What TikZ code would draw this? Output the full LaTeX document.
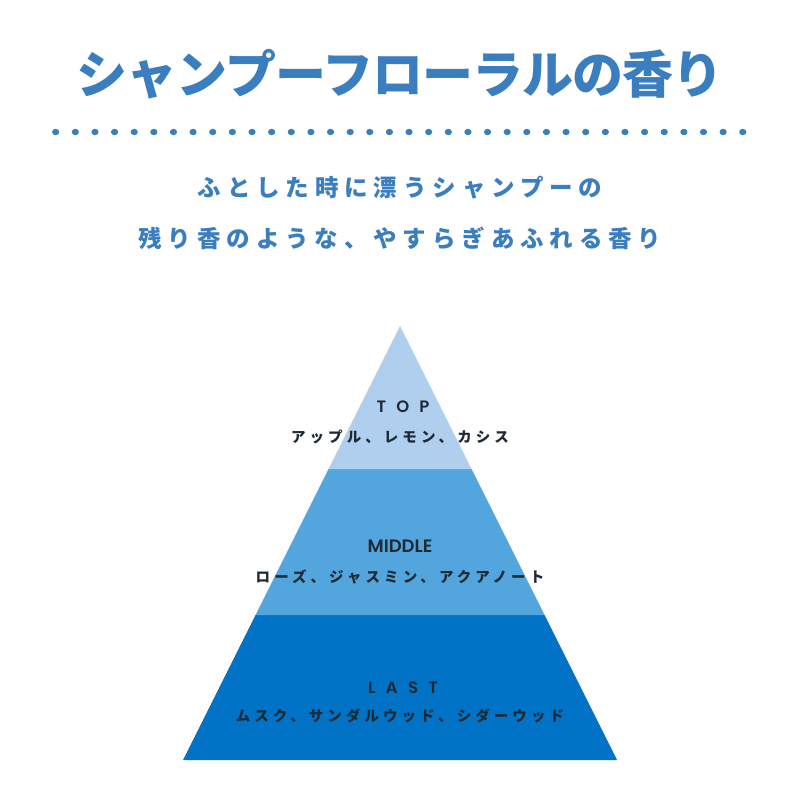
\documentclass[tikz,border=0pt]{standalone}
\usepackage{fontspec}
\setmainfont{Poppins}
\newfontfamily\titlefont{Noto Sans CJK JP}[LetterSpace=-2]
\newfontfamily\leadfont{Noto Sans CJK JP}[LetterSpace=25]
\newfontfamily\notefont{Noto Sans CJK JP}[LetterSpace=28]
\newfontfamily\tierfont{Poppins}[UprightFont={* SemiBold}, LetterSpace=62]
\newfontfamily\midfont{Poppins}[UprightFont={* SemiBold}]

\definecolor{titleblue}{HTML}{3B7EBF}
\definecolor{topblue}{HTML}{B0CFEE}
\definecolor{midblue}{HTML}{52A6DD}
\definecolor{lastblue}{HTML}{0073C7}
\definecolor{notetext}{HTML}{1E2A36}

\tikzset{
  lead/.style={text=titleblue, font=\leadfont\bfseries\fontsize{23.5}{23.5}\selectfont},
  tier/.style={text=notetext, font=\tierfont\fontsize{16.5}{16.5}\selectfont},
  note/.style={text=notetext, font=\notefont\bfseries\fontsize{14.5}{14.5}\selectfont},
}

\begin{document}
\begin{tikzpicture}[x=1pt,y=-1pt]
  \useasboundingbox[fill=white] (0,0) rectangle (800,800);

  % heading
  \node[text=titleblue, font=\titlefont\bfseries\fontsize{51}{51}\selectfont]
    (title) at (400,74) {シャンプーフローラルの香り};
  % dotted rule
  \foreach \i in {0,...,35}
    \fill[titleblue] (55.7+\i*19.63,132) ellipse (3.6 and 3.2);

  % lead text
  \node[lead] (lead1) at (400,188) {ふとした時に漂うシャンプーの};
  \node[lead] (lead2) at (400,238) {残り香のような、やすらぎあふれる香り};

  % pyramid bands
  \fill[lastblue] (255.5,615) -- (544.5,615) -- (617,760) -- (183,760) -- cycle;
  \fill[midblue] (328.5,469) -- (471.5,469) -- (544.5,615) -- (255.5,615) -- cycle;
  \fill[topblue] (400,326) -- (471.5,469) -- (328.5,469) -- cycle;

  % notes
  \node[tier] (top) at (403,407) {TOP};
  \node[note] (topnotes) at (400,437) {アップル、レモン、カシス};
  \node[text=notetext, font=\midfont\fontsize{18}{18}\selectfont]
    (middle) at (400,546) {MIDDLE};
  \node[note] (midnotes) at (400,577) {ローズ、ジャスミン、アクアノート};
  \node[tier] (last) at (403,688) {LAST};
  \node[note] (lastnotes) at (400,716) {ムスク、サンダルウッド、シダーウッド};
\end{tikzpicture}
\end{document}
